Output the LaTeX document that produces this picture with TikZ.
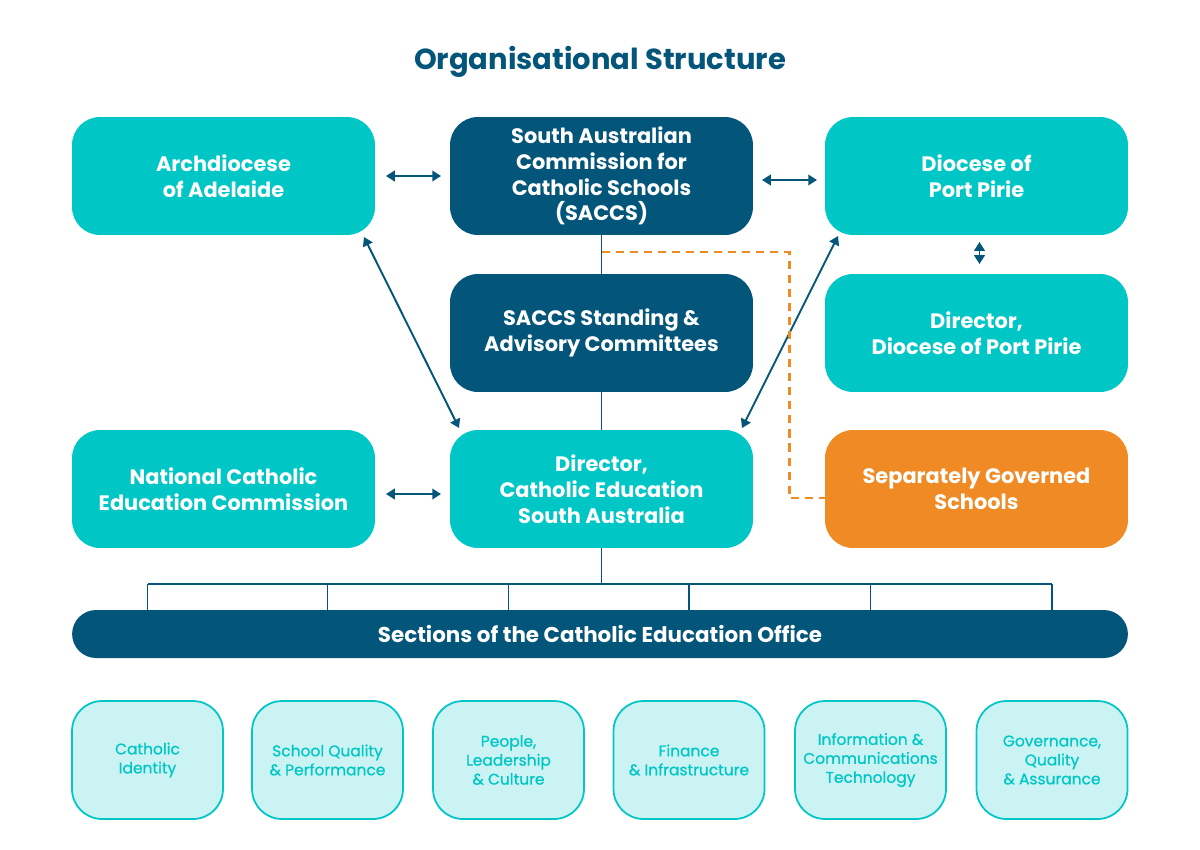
\documentclass[tikz,border=0pt]{standalone}
\usepackage{fontspec}
\setmainfont{Poppins}
\newfontfamily\medfont{Poppins}[FakeBold=0.8]
\usetikzlibrary{arrows.meta,positioning,calc}
\definecolor{navy}{HTML}{03557A}
\definecolor{cyan1}{HTML}{00C6C6}
\definecolor{orng}{HTML}{F08A24}
\definecolor{lcyan}{HTML}{CCF3F3}
\begin{document}
\begin{tikzpicture}[x=0.02cm,y=-0.02cm,
  bigbox/.style={rectangle,rounded corners=0.56cm,minimum width=6.06cm,minimum height=2.36cm,inner sep=0pt,outer sep=0pt,align=center,text=white,font=\fontsize{11.9}{14.7}\selectfont\bfseries},
  cbox/.style={bigbox,fill=cyan1},
  nbox/.style={bigbox,fill=navy},
  obox/.style={bigbox,fill=orng},
  sbox/.style={rectangle,rounded corners=0.6cm,minimum width=3.02cm,minimum height=2.36cm,inner sep=0pt,outer sep=0pt,align=center,fill=lcyan,draw=cyan1,line width=1pt,text=cyan1,font=\fontsize{8.8}{10.8}\selectfont\medfont},
  link/.style={draw=navy,line width=1.1pt},
  dbl/.style={link,{Triangle[length=5pt,width=6pt]}-{Triangle[length=5pt,width=6pt]}},
  tree/.style={draw=navy,line width=0.9pt},
  odash/.style={draw=orng,line width=1.3pt,dash pattern=on 4.6pt off 3.4pt}
]
\useasboundingbox (0,0) rectangle (1200,849);
\node[text=navy,font=\fontsize{16.5}{19}\selectfont\bfseries] (title) at (600,62) {Organisational Structure};

\node[cbox] (arch) at (223.5,176) {Archdiocese\\of Adelaide};
\node[nbox] (saccs) at (601.5,176) {South Australian\\Commission for\\Catholic Schools\\(SACCS)};
\node[cbox] (dpp) at (976.5,176) {Diocese of\\Port Pirie};
\node[nbox] (stand) at (601.5,333) {SACCS Standing \&\\Advisory Committees};
\node[cbox] (dirpp) at (976.5,333) {Director,\\Diocese of Port Pirie};
\node[cbox] (ncec) at (223.5,489) {National Catholic\\Education Commission};
\node[cbox] (dir) at (601.5,489) {Director,\\Catholic Education\\South Australia};
\node[obox] (sep) at (976.5,489) {Separately Governed\\Schools};

\node[rectangle,rounded corners=0.48cm,minimum width=21.12cm,minimum height=0.96cm,fill=navy,text=white,inner sep=0pt,outer sep=0pt,font=\fontsize{12.2}{14}\selectfont\bfseries] (bar) at (600,634) {Sections of the Catholic Education Office};

\node[sbox] (b1) at (147.5,760) {Catholic\\Identity};
\node[sbox] (b2) at (327.5,760) {School Quality\\\& Performance};
\node[sbox] (b3) at (508.5,760) {People,\\Leadership\\\& Culture};
\node[sbox] (b4) at (689,760) {Finance\\\& Infrastructure};
\node[sbox] (b5) at (870.5,760) {Information \&\\Communications\\Technology};
\node[sbox] (b6) at (1052,760) {Governance,\\Quality\\\& Assurance};

% vertical spine
\draw[link] (saccs.south) -- (stand.north);
\draw[link] (stand.south) -- (dir.north);
\draw[tree] (dir.south) -- ++(0,36) coordinate (bus);
\draw[tree] (b1 |- bus) -- (b6 |- bus);
\foreach \b in {b1,b2,b3,b4,b5,b6}
  \draw[tree] (\b |- bus) -- (\b |- bar.north);

% double arrows
\draw[dbl,shorten <=0.22cm,shorten >=0.18cm] (arch.east) -- (saccs.west);
\draw[dbl,shorten <=0.18cm,shorten >=0.16cm] ([yshift=-0.08cm]saccs.east) -- ([yshift=-0.08cm]dpp.west);
\draw[dbl,shorten <=0.22cm,shorten >=0.18cm] ([yshift=-0.1cm]ncec.east) -- ([yshift=-0.1cm]dir.west);
\draw[dbl,shorten <=0.14cm,shorten >=0.2cm] ([xshift=0.06cm]dpp.south) -- ([xshift=0.06cm]dirpp.north);
\draw[dbl] ([shift={(-0.22cm,-0.04cm)}]arch.south east) -- ([shift={(0.18cm,0.04cm)}]dir.north west);
\draw[dbl] ([shift={(0.26cm,-0.02cm)}]dpp.south west) -- ([shift={(-0.22cm,0.04cm)}]dir.north east);

% dashed orange
\draw[odash] ([yshift=-0.34cm]saccs.south) -- ++(188,0) coordinate (oc) |- ([yshift=-0.18cm]sep.west);
\end{tikzpicture}
\end{document}
